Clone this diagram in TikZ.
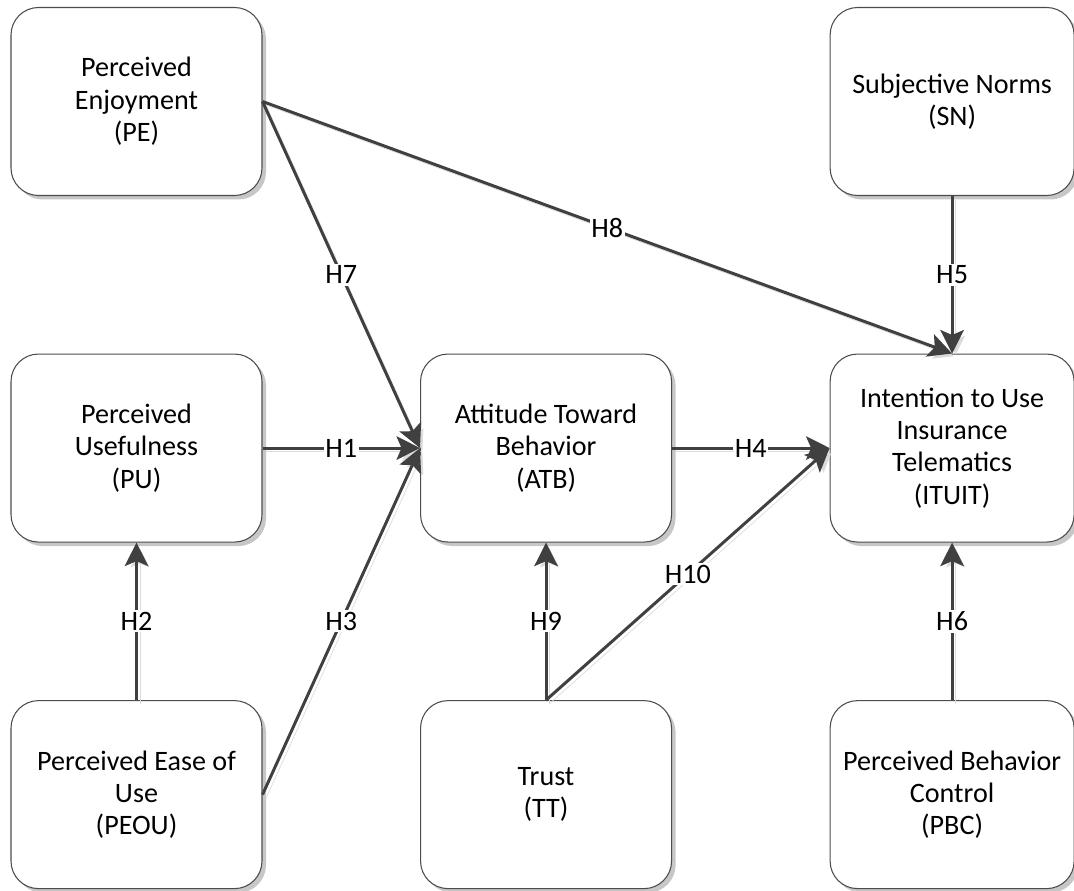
\documentclass[tikz,border=0pt]{standalone}
\usepackage{fontspec}
\setmainfont{Carlito}
\usetikzlibrary{positioning,shadows,arrows.meta}
\begin{document}
\begin{tikzpicture}[
    node distance=3.15cm,
    every node/.style={font=\fontsize{16}{18.4}\selectfont},
    box/.style={draw=black!70, line width=0.6pt, fill=white, rounded corners=0.55cm,
        minimum width=5.02cm, minimum height=3.76cm, align=center,
        drop shadow={shadow xshift=0.08cm, shadow yshift=-0.08cm, fill=black!22, opacity=1}},
    conn/.style={draw=black!75, line width=1.7pt, -{Stealth[length=0.47cm, width=0.47cm, inset=0.1cm]},
        preaction={draw=black!14, transform canvas={xshift=2pt, yshift=-2pt}}},
    hyp/.style={fill=white, inner sep=1pt}
]
    \useasboundingbox (0,0) rectangle (21.48,17.8) ;

    \node[box] (pe) at (2.73,15.77) {Perceived\\Enjoyment\\(PE)} ;
    \node[box, below=of pe] (pu) {Perceived\\Usefulness\\(PU)} ;
    \node[box, below=of pu] (peou) {Perceived Ease of\\Use\\(PEOU)} ;
    \node[box, right=of pu] (atb) {Attitude Toward\\Behavior\\(ATB)} ;
    \node[box, below=of atb] (tt) {Trust\\(TT)} ;
    \node[box, minimum width=4.88cm, right=of atb] (ituit) {Intention to Use\\Insurance\\Telematics\\(ITUIT)} ;
    \node[box, minimum width=4.88cm, above=of ituit] (sn) {Subjective Norms\\(SN)} ;
    \node[box, minimum width=4.88cm, below=of ituit] (pbc) {Perceived Behavior\\Control\\(PBC)} ;

    \draw[conn] (pe.east) -- node[hyp] {H7} (atb.west) ;
    \draw[conn] (pe.east) -- node[hyp] {H8} (ituit.north) ;
    \draw[conn] (pu) -- node[hyp] {H1} (atb) ;
    \draw[conn] (peou) -- node[hyp] {H2} (pu) ;
    \draw[conn] (peou.east) -- node[hyp] {H3} (atb.west) ;
    \draw[conn] (atb) -- node[hyp] {H4} (ituit) ;
    \draw[conn] (sn) -- node[hyp] {H5} (ituit) ;
    \draw[conn] (pbc) -- node[hyp] {H6} (ituit) ;
    \draw[conn] (tt) -- node[hyp] {H9} (atb) ;
    \draw[conn] (tt.north) -- node[hyp] {H10} (ituit.west) ;
\end{tikzpicture}
\end{document}
